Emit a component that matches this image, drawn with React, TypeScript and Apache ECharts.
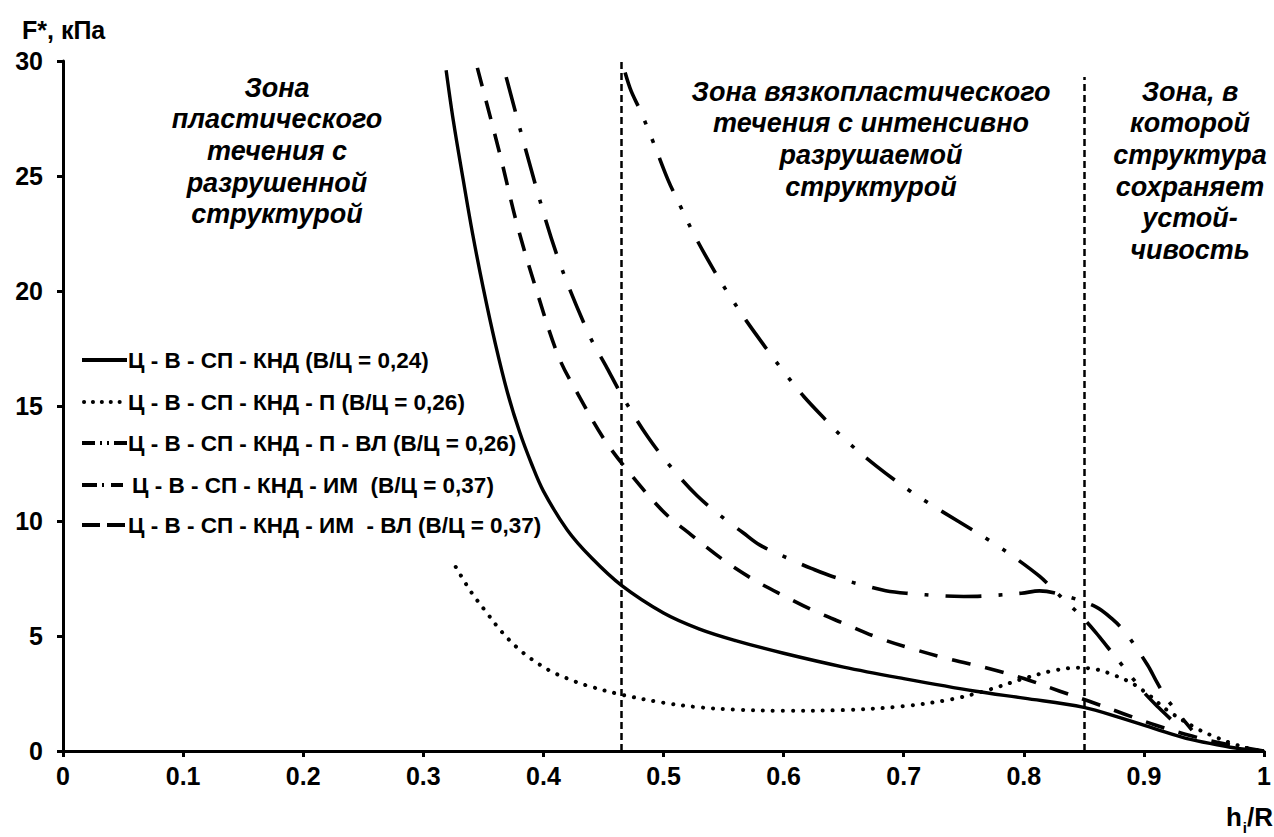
import React, { useEffect, useRef } from "react";
import * as echarts from "echarts";

// ---- data (x = h_i/R, y = F*, кПа) ----
const seriesNames = [
  "Ц - В - СП - КНД (В/Ц = 0,24)",
  "Ц - В - СП - КНД - П (В/Ц = 0,26)",
  "Ц - В - СП - КНД - П - ВЛ (В/Ц = 0,26)",
  "Ц - В - СП - КНД - ИМ  (В/Ц = 0,37)",
  "Ц - В - СП - КНД - ИМ  - ВЛ (В/Ц = 0,37)",
];

const solidData = [
  [0.319, 29.6], [0.325, 27.4], [0.333, 24.9], [0.341, 22.5], [0.35, 20.1], [0.36, 17.7],
  [0.37, 15.6], [0.38, 13.9], [0.39, 12.5], [0.4, 11.3], [0.42, 9.6], [0.44, 8.4],
  [0.465, 7.2], [0.5, 6.0], [0.53, 5.3], [0.56, 4.8], [0.6, 4.25], [0.65, 3.65],
  [0.7, 3.15], [0.76, 2.6], [0.8, 2.3], [0.85, 1.9], [0.88, 1.45], [0.91, 0.95],
  [0.935, 0.55], [0.96, 0.28], [0.98, 0.1], [1.0, 0],
];

const dottedData = [
  [0.327, 8.0], [0.34, 6.9], [0.353, 6.0], [0.365, 5.2], [0.378, 4.5], [0.39, 4.0],
  [0.405, 3.5], [0.42, 3.15], [0.436, 2.85], [0.465, 2.45], [0.5, 2.1], [0.53, 1.9],
  [0.56, 1.8], [0.6, 1.75], [0.65, 1.78], [0.7, 1.95], [0.74, 2.25], [0.77, 2.65],
  [0.8, 3.15], [0.825, 3.5], [0.845, 3.62], [0.86, 3.55], [0.875, 3.3], [0.89, 2.95],
  [0.905, 2.4], [0.92, 1.75], [0.945, 0.95], [0.96, 0.6], [0.975, 0.3], [0.99, 0.08],
  [1.0, 0],
];

const dashDotDotData = [
  [0.468, 29.5], [0.473, 28.7], [0.481, 27.8], [0.492, 26.4], [0.504, 24.8], [0.513, 23.8],
  [0.526, 22.4], [0.542, 20.9], [0.555, 19.8], [0.569, 18.7], [0.587, 17.4], [0.6, 16.5],
  [0.617, 15.4], [0.635, 14.4], [0.652, 13.5], [0.677, 12.4], [0.704, 11.35], [0.72, 10.8],
  [0.745, 10.0], [0.773, 9.1], [0.79, 8.5], [0.813, 7.6], [0.825, 7.0], [0.836, 6.45],
  [0.848, 5.85], [0.86, 5.15], [0.87, 4.5], [0.88, 3.85], [0.89, 3.2], [0.9, 2.55],
  [0.912, 1.9], [0.923, 1.35],
];

const dashDotData = [
  [0.369, 29.3], [0.394, 24.5], [0.413, 21.3], [0.438, 18.1], [0.453, 16.65], [0.466, 15.4],
  [0.487, 13.65], [0.507, 12.3], [0.528, 11.1], [0.552, 10.04], [0.566, 9.5], [0.58, 8.96],
  [0.607, 8.3], [0.623, 7.94], [0.64, 7.6], [0.669, 7.17], [0.685, 6.97], [0.702, 6.86],
  [0.734, 6.74], [0.75, 6.72], [0.767, 6.74], [0.798, 6.86], [0.813, 6.96], [0.832, 6.78],
  [0.86, 6.27], [0.874, 5.72], [0.885, 5.12], [0.903, 3.74], [0.911, 2.97], [0.92, 2.2],
  [0.94, 0.91],
];

const dashedData = [
  [0.345, 29.7], [0.364, 25.9], [0.378, 22.9], [0.395, 19.9], [0.413, 17.1], [0.43, 15.4],
  [0.45, 13.6], [0.47, 12.2], [0.5, 10.4], [0.523, 9.4], [0.55, 8.3], [0.575, 7.45],
  [0.6, 6.75], [0.625, 6.1], [0.65, 5.55], [0.68, 4.9], [0.71, 4.4], [0.74, 3.97],
  [0.77, 3.6], [0.8, 3.15], [0.83, 2.6], [0.855, 2.15], [0.884, 1.6], [0.91, 1.12],
  [0.94, 0.65], [0.97, 0.28], [1.0, 0],
];

const zoneBoundaries = [0.465, 0.85];
const zoneBoundaryTops = [30, 29.3];

const zoneTexts = [
  "Зона\nпластического\nтечения с\nразрушенной\nструктурой",
  "Зона вязкопластического\nтечения с интенсивно\nразрушаемой\nструктурой",
  "Зона, в\nкоторой\nструктура\nсохраняет\nустой-\nчивость",
];

const yAxisTitle = "F*, кПа";

const FONT = '"Liberation Sans", Arial, sans-serif';

function fmtX(v: number) {
  if (Math.abs(v) < 1e-9) return "0";
  if (Math.abs(v - 1) < 1e-9) return "1";
  return v.toFixed(1);
}

export default function App() {
  const ref = useRef<HTMLDivElement>(null);

  useEffect(() => {
    document.body.style.margin = "0";
    if (!ref.current) return;
    const chart = echarts.init(ref.current, undefined, { renderer: "svg" });

    const lw = 3.6;
    const baseLine = { color: "#000", width: lw, cap: "butt" as const, join: "round" as const };

    const legendY = [360, 402, 443, 485, 525];
    const legendDash: (number[] | null)[] = [null, [0.1, 8.8], [13, 5, 2, 5, 2, 5, 13], [15, 5, 2, 7, 12], [18, 7, 18]];
    const legendEnd = [127, 127, 127, 123, 125];
    const legendTextX = [128, 128, 128, 132, 128];

    const graphics: any[] = [];
    legendY.forEach((y, i) => {
      graphics.push({
        type: "line",
        silent: true,
        shape: { x1: i === 1 ? 84 : 82, y1: y, x2: legendEnd[i], y2: y },
        style: {
          stroke: "#000",
          lineWidth: 4,
          lineDash: legendDash[i] || undefined,
          lineCap: i === 1 ? "round" : "butt",
        },
      });
      graphics.push({
        type: "text",
        silent: true,
        style: {
          text: seriesNames[i],
          x: legendTextX[i],
          y: y,
          fill: "#000",
          font: `bold 22.5px ${FONT}`,
          align: "left",
          textAlign: "left",
          verticalAlign: "middle",
          textVerticalAlign: "middle",
        },
      });
    });

    const zonePos = [
      [277, 72],
      [871, 76],
      [1190, 76],
    ];
    zoneTexts.forEach((t, i) => {
      graphics.push({
        type: "text",
        silent: true,
        style: {
          text: t,
          x: zonePos[i][0],
          y: zonePos[i][1],
          fill: "#000",
          font: `italic bold 27px ${FONT}`,
          lineHeight: 31.6,
          align: "center",
          textAlign: "center",
          verticalAlign: "top",
          textVerticalAlign: "top",
        },
      });
    });

    graphics.push({
      type: "text",
      silent: true,
      style: { text: yAxisTitle, x: 22, y: 30, fill: "#000", font: `bold 25px ${FONT}`, align: "left", verticalAlign: "middle", textAlign: "left", textVerticalAlign: "middle" },
    });
    // x-axis name h_i/R
    graphics.push({
      type: "text",
      silent: true,
      style: { text: "/R", x: 1273, y: 830, fill: "#000", font: `bold 26px ${FONT}`, align: "right", verticalAlign: "bottom", textAlign: "right", textVerticalAlign: "bottom" },
    });
    graphics.push({
      type: "text",
      silent: true,
      style: { text: "i", x: 1247, y: 835, fill: "#000", font: `bold 15px ${FONT}`, align: "right", verticalAlign: "bottom", textAlign: "right", textVerticalAlign: "bottom" },
    });
    graphics.push({
      type: "text",
      silent: true,
      style: { text: "h", x: 1242, y: 830, fill: "#000", font: `bold 26px ${FONT}`, align: "right", verticalAlign: "bottom", textAlign: "right", textVerticalAlign: "bottom" },
    });

    const axisLabelStyle = { color: "#000", fontSize: 25, fontWeight: "bold" as const, fontFamily: FONT };

    chart.setOption({
      animation: false,
      backgroundColor: "#fff",
      grid: { left: 63, right: 8, top: 61, bottom: 86, containLabel: false },
      xAxis: {
        type: "value",
        min: 0,
        max: 1,
        interval: 0.1,
        axisLine: { show: true, onZero: false, lineStyle: { color: "#000", width: 3 } },
        axisTick: { show: true, length: 6, lineStyle: { color: "#000", width: 3 } },
        axisLabel: { ...axisLabelStyle, margin: 12, formatter: (v: number) => fmtX(v) },
        splitLine: { show: false },
      },
      yAxis: {
        type: "value",
        min: 0,
        max: 30,
        interval: 5,
        axisLine: { show: true, onZero: false, lineStyle: { color: "#000", width: 3 } },
        axisTick: { show: true, length: 6, lineStyle: { color: "#000", width: 3 } },
        axisLabel: { ...axisLabelStyle, margin: 20 },
        splitLine: { show: false },
      },
      graphic: graphics,
      series: [
        {
          name: seriesNames[0],
          type: "line",
          data: solidData,
          symbol: "none",
          smooth: 0.35,
          lineStyle: { ...baseLine, type: "solid", width: 3.4 },
          markLine: {
            silent: true,
            symbol: "none",
            label: { show: false },
            lineStyle: { color: "#000", width: 2.5, type: [7, 4] },
            data: zoneBoundaries.map((x, i) => [
              { coord: [x, 0] },
              { coord: [x, zoneBoundaryTops[i]] },
            ]),
          },
        },
        {
          name: seriesNames[1],
          type: "line",
          data: dottedData,
          symbol: "none",
          smooth: 0.35,
          lineStyle: { color: "#000", width: 4, type: [0.1, 9.9], cap: "round" },
        },
        {
          name: seriesNames[2],
          type: "line",
          data: dashDotDotData,
          symbol: "none",
          smooth: 0.35,
          lineStyle: { ...baseLine, type: [36, 16, 4, 16, 4, 16] },
        },
        {
          name: seriesNames[3],
          type: "line",
          data: dashDotData,
          symbol: "none",
          smooth: 0.35,
          lineStyle: { ...baseLine, type: [36, 17, 4, 17] },
        },
        {
          name: seriesNames[4],
          type: "line",
          data: dashedData,
          symbol: "none",
          smooth: 0.35,
          lineStyle: { ...baseLine, type: [19, 15] },
        },
      ],
    });

    return () => chart.dispose();
  }, []);

  return <div ref={ref} style={{ width: 1274, height: 837 }} />;
}
